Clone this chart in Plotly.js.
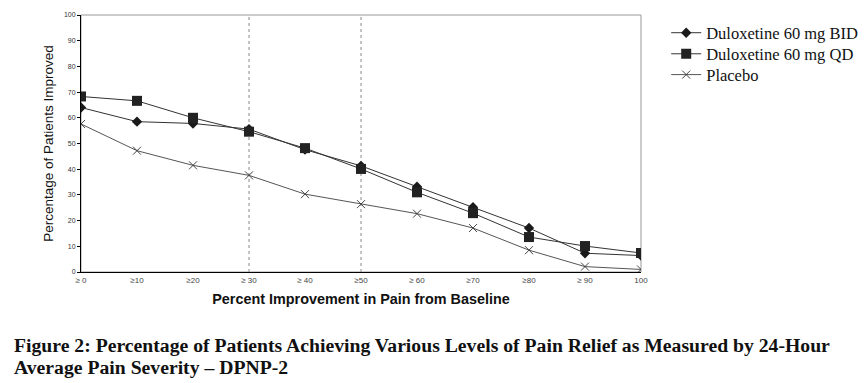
<!DOCTYPE html>
<html><head><meta charset="utf-8">
<script src="https://cdn.plot.ly/plotly-3.0.1.min.js"></script>
<style>html,body{margin:0;padding:0;background:#fff}#chart{width:867px;height:383px}</style>
</head><body><div id="chart"></div>
<script>
const categories = ["≥ 0","≥10","≥20","≥ 30","≥ 40","≥50","≥ 60","≥70","≥80","≥ 90","100"];
const bidValues = [64, 58.5, 57.8, 55.6, 47.6, 41.3, 33.2, 25.2, 17.1, 7.3, 6.4];
const qdValues = [68.3, 66.6, 60, 54.6, 48.2, 40.1, 31, 22.9, 13.6, 10.1, 7.4];
const placeboValues = [57.6, 47.2, 41.5, 37.6, 30.3, 26.4, 22.7, 17.1, 8.5, 2.1, 1.0];
const yTicks = [0,10,20,30,40,50,60,70,80,90,100];
const refLines = ["≥ 30","≥50"];
const captionLines = ["Figure 2: Percentage of Patients Achieving Various Levels of Pain Relief as Measured by 24-Hour",
                      "Average Pain Severity – DPNP-2"];

const traces = [
  {name:"Duloxetine 60 mg BID", legend:"legend", x:categories, y:bidValues, type:"scatter", mode:"lines+markers",
   line:{color:"#333", width:1}, marker:{symbol:"diamond", size:8, color:"#1a1a1a"}},
  {name:"Duloxetine 60 mg QD", legend:"legend2", x:categories, y:qdValues, type:"scatter", mode:"lines+markers",
   line:{color:"#333", width:1}, marker:{symbol:"square", size:10, color:"#222"}},
  {name:"Placebo", legend:"legend3", x:categories, y:placeboValues, type:"scatter", mode:"lines+markers",
   line:{color:"#555", width:1}, marker:{symbol:"x-thin", size:8, color:"#444", line:{color:"#444", width:1}}}
];

const shapes = refLines.map(c => ({type:"line", xref:"x", yref:"paper", x0:c, x1:c, y0:0, y1:1,
  line:{color:"#888", width:1, dash:"dot"}, layer:"below"}));
shapes.push({type:"rect", xref:"paper", yref:"paper", x0:0, x1:1, y0:0, y1:1, line:{color:"#999", width:1}, layer:"below"});

const legendBase = {x:1.045, xanchor:"left", yanchor:"middle", font:{family:"Liberation Serif", size:16.5, color:"#111"},
    bgcolor:"rgba(0,0,0,0)", itemwidth:30};
const captionY = [-0.284, -0.370];
const layout = {
  width:867, height:383,
  margin:{l:81, r:226, t:15, b:111, autoexpand:false},
  paper_bgcolor:"#fff", plot_bgcolor:"#fff",
  showlegend:true,
  legend:Object.assign({}, legendBase, {y:0.930}),
  legend2:Object.assign({}, legendBase, {y:0.848}),
  legend3:Object.assign({}, legendBase, {y:0.767}),
  xaxis:{type:"category", range:[0,10], showgrid:false, zeroline:false, showline:true, linecolor:"#000", linewidth:1,
    ticks:"", tickfont:{family:"Arial", size:8, color:"#444"},
    title:{text:"Percent Improvement in Pain from Baseline", font:{family:"Arial", size:14.4, color:"#111", weight:"bold"}, standoff:10}},
  yaxis:{range:[0,100], tickvals:yTicks, showgrid:false, zeroline:false, showline:true, linecolor:"#000", linewidth:1,
    ticks:"outside", ticklen:3, tickcolor:"#000", tickfont:{family:"Arial", size:7, color:"#333"},
    title:{text:"Percentage of Patients Improved", font:{family:"Arial", size:13.5, color:"#111"}, standoff:7}},
  shapes:shapes,
  annotations: captionLines.map((t,i) => ({xref:"paper", yref:"paper", x:-0.1225, y:captionY[i], xanchor:"left", yanchor:"middle",
     align:"left", showarrow:false, text:"<b>"+t+"</b>",
     font:{family:"Liberation Serif", size:19.7, color:"#111"}}))
};
Plotly.newPlot("chart", traces, layout, {displayModeBar:false, staticPlot:true});
</script></body></html>
